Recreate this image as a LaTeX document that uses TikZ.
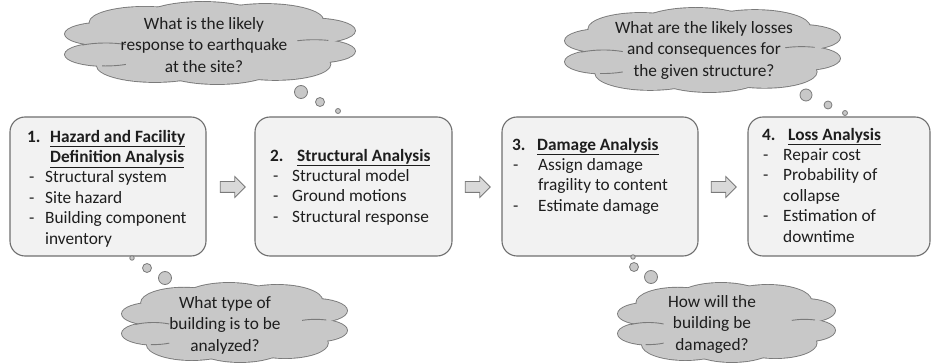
\documentclass[tikz,border=0pt]{standalone}
\usepackage{fontspec}
\setmainfont{Carlito}
\usetikzlibrary{shapes.arrows}
\definecolor{boxfill}{HTML}{F2F2F2}
\definecolor{boxline}{HTML}{6E6E6E}
\definecolor{cloudfill}{HTML}{C8C8C8}
\definecolor{cloudline}{HTML}{7A7A7A}
\definecolor{arrowfill}{HTML}{D9D9D9}
\definecolor{txt}{HTML}{1E1E1E}
\newcommand\bxhead[3]{\makebox[#1][l]{\textbf{#2}}\textbf{\underline{#3}}}
\newcommand\bxcont[2]{\hspace*{#1}\textbf{\underline{#2}}}
\newcommand\bxitem[3]{\makebox[#2][l]{\hspace*{#1}-}#3}
\newcommand\bxmore[2]{\hspace*{#1}#2}
\newcommand\firstline{\rule{0pt}{15pt}}
\newcommand\cloudbumps{-0.72/-0.22/0.28, -0.45/-0.5/0.38, -0.05/-0.58/0.42, 0.38/-0.55/0.4, 0.7/-0.3/0.3, 0.72/0.2/0.28, 0.45/0.52/0.38, 0.05/0.6/0.4, -0.38/0.55/0.4, -0.72/0.28/0.28}
% #1 name, #2 cx, #3 cy, #4 half width, #5 half height
\newcommand\thoughtcloud[5]{%
  \coordinate (#1) at (#2,#3);
  \begin{scope}[shift={(#1)}, x=#4pt, y=-#5pt]
    \foreach \u/\v/\r in \cloudbumps {\draw[cloudline, line width=1.8pt] (\u,\v) circle[radius=\r];}
    \foreach \u/\v/\r in \cloudbumps {\fill[cloudfill] (\u,\v) circle[radius=\r];}
    \fill[cloudfill] (0,0) circle[x radius=0.75, y radius=0.55];
    \draw[cloudline, line width=0.9pt] (-0.72,0.28) ++(235:0.28) arc[start angle=235, end angle=300, radius=0.28];
    \draw[cloudline, line width=0.9pt] (0.72,0.2) ++(245:0.28) arc[start angle=245, end angle=290, radius=0.28];
    \draw[cloudline, line width=0.9pt] (-0.72,0.28) ++(60:0.28) arc[start angle=60, end angle=95, radius=0.28];
  \end{scope}}
\begin{document}
\begin{tikzpicture}[x=1pt,y=-1pt,
  font=\fontsize{17.3}{20.4}\selectfont, text=txt,
  procbox/.style={draw=boxline, line width=1.1pt, fill=boxfill, rounded corners=15pt, inner sep=0pt},
  boxtext/.style={anchor=north west, align=left, inner sep=0pt},
  cloudtext/.style={anchor=north, align=center, inner sep=0pt, font=\fontsize{17.3}{21.5}\selectfont},
  bubble/.style={circle, draw=cloudline, line width=0.8pt, fill=cloudfill, inner sep=0pt},
  flow/.style={single arrow, draw=cloudline, line width=0.8pt, fill=arrowfill, minimum height=25pt, single arrow head extend=5pt, inner sep=5pt, single arrow head indent=0pt}
]
\useasboundingbox (0,0) rectangle (934,363);

% process boxes
\node[procbox, minimum width=196pt, minimum height=139pt] (b1) at (108,186.5) {};
\node[procbox, minimum width=197pt, minimum height=139pt] (b2) at (353.5,186.5) {};
\node[procbox, minimum width=196pt, minimum height=139pt] (b3) at (600,186.5) {};
\node[procbox, minimum width=182pt, minimum height=139pt] (b4) at (839,186.5) {};

\node[boxtext] (t1) at (27,127) {\firstline\bxhead{23pt}{1.}{Hazard and Facility}\\
  \bxcont{23pt}{Definition Analysis}\\
  \bxitem{2pt}{18pt}{Structural system}\\
  \bxitem{2pt}{18pt}{Site hazard}\\
  \bxitem{2pt}{18pt}{Building component}\\
  \bxmore{18pt}{inventory}};
\node[boxtext] (t2) at (270,146) {\firstline\bxhead{27pt}{2.}{Structural Analysis}\\
  \bxitem{3pt}{22pt}{Structural model}\\
  \bxitem{3pt}{22pt}{Ground motions}\\
  \bxitem{3pt}{22pt}{Structural response}};
\node[boxtext] (t3) at (512,135) {\firstline\bxhead{25pt}{3.}{Damage Analysis}\\
  \bxitem{1pt}{26pt}{Assign damage}\\
  \bxmore{26pt}{fragility to content}\\
  \bxitem{1pt}{26pt}{Estimate damage}};
\node[boxtext] (t4) at (762,125) {\firstline\bxhead{26pt}{4.}{Loss Analysis}\\
  \bxitem{1pt}{21pt}{Repair cost}\\
  \bxitem{1pt}{21pt}{Probability of}\\
  \bxmore{21pt}{collapse}\\
  \bxitem{1pt}{21pt}{Estimation of}\\
  \bxmore{21pt}{downtime}};

% block arrows
\node[flow] (a1) at (230,187) {};
\node[flow] (a2) at (475,187) {};
\node[flow] (a3) at (721,187) {};

% clouds
\thoughtcloud{c1}{210}{43}{145}{41}
\thoughtcloud{c2}{702.5}{50}{137.5}{42}
\thoughtcloud{c3}{234.5}{322.5}{112.5}{39.5}
\thoughtcloud{c4}{726.5}{322.5}{108.5}{39.5}

\node[cloudtext] (q1) at (204,14) {\firstline What is the likely\\ response to earthquake\\ at the site?};
\node[cloudtext] (q2) at (704,18) {\firstline What are the likely losses\\ and consequences for\\ the given structure?};
\node[cloudtext] (q3) at (225,293) {\firstline What type of\\ building is to be\\ analyzed?};
\node[cloudtext] (q4) at (712,292) {\firstline How will the\\ building be\\ damaged?};

% thought bubbles
\node[bubble, minimum size=13pt] (c1a) at (301,92) {};
\node[bubble, minimum size=9pt] (c1b) at (320,102) {};
\node[bubble, minimum size=5pt] (c1c) at (338,111) {};
\node[bubble, minimum size=12pt] (c2a) at (806,95) {};
\node[bubble, minimum size=8pt] (c2b) at (828,105) {};
\node[bubble, minimum size=5pt] (c2c) at (845,113) {};
\node[bubble, minimum size=4.5pt] (c3c) at (132,258) {};
\node[bubble, minimum size=9pt] (c3b) at (147,268) {};
\node[bubble, minimum size=13pt] (c3a) at (165,278) {};
\node[bubble, minimum size=4.5pt] (c4c) at (633,257) {};
\node[bubble, minimum size=9pt] (c4b) at (634,267) {};
\node[bubble, minimum size=13pt] (c4a) at (651,277) {};
\end{tikzpicture}
\end{document}
